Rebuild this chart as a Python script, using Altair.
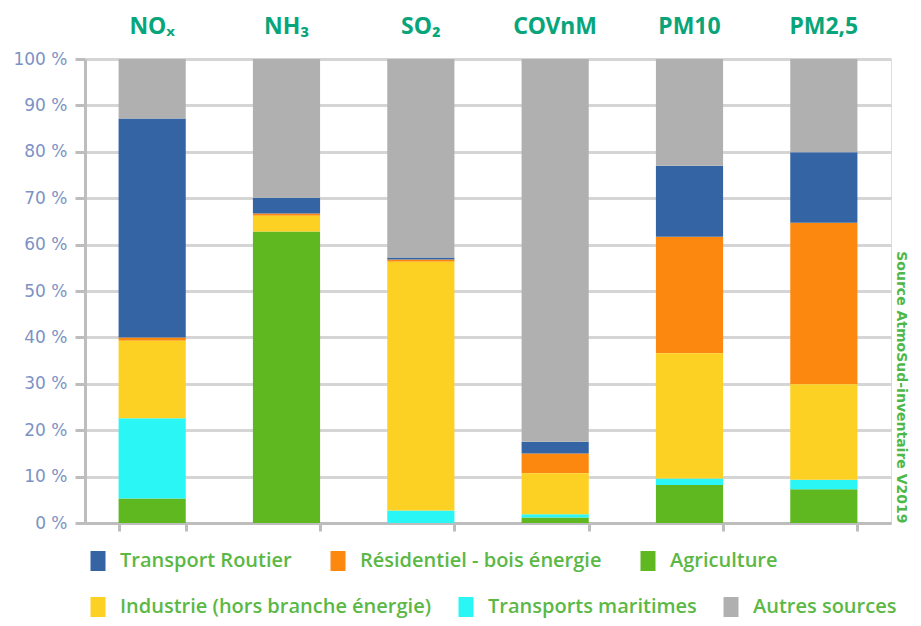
import altair as alt
import pandas as pd

categories = ["NOₓ", "NH₃", "SO₂", "COVnM", "PM10", "PM2,5"]

sources_row1 = ["Transport Routier", "Résidentiel - bois énergie", "Agriculture"]
colors_row1 = ["#3464A3", "#FD8810", "#5FB820"]
sources_row2 = ["Industrie (hors branche énergie)", "Transports maritimes", "Autres sources"]
colors_row2 = ["#FDD123", "#2BF6F6", "#B0B0B0"]

# stacking order bottom -> top
stack_order = ["Agriculture", "Transports maritimes", "Industrie (hors branche énergie)",
               "Résidentiel - bois énergie", "Transport Routier", "Autres sources"]

agriculture = [5.3, 62.8, 0.0, 1.2, 8.2, 7.3]
maritime = [17.3, 0.0, 2.7, 0.7, 1.4, 2.0]
industrie = [16.7, 3.4, 53.6, 8.8, 27.0, 20.6]
residentiel = [0.7, 0.5, 0.5, 4.3, 25.1, 34.8]
routier = [47.2, 3.4, 0.4, 2.5, 15.3, 15.2]
autres = [12.8, 29.9, 42.8, 82.5, 23.0, 20.1]

series = {
    "Agriculture": agriculture,
    "Transports maritimes": maritime,
    "Industrie (hors branche énergie)": industrie,
    "Résidentiel - bois énergie": residentiel,
    "Transport Routier": routier,
    "Autres sources": autres,
}

rows = []
for s, vals in series.items():
    for c, v in zip(categories, vals):
        rows.append({"polluant": c, "source": s, "part": v, "rang": stack_order.index(s),
                     "ligne": 1 if s in sources_row1 else 2})
df = pd.DataFrame(rows)

label_font = "Open Sans"
green_txt = "#5BB845"

xscale = alt.Scale(domain=categories, paddingInner=0.5, paddingOuter=0.25)
yscale = alt.Scale(domain=[0, 100], nice=False)

base = alt.Chart(df).transform_stack(
    stack="part", groupby=["polluant"], as_=["y0", "y1"],
    sort=[alt.SortField("rang", order="ascending")]
)


def legend(y, colpad):
    return alt.Legend(title=None, orient="none", legendX=3, legendY=y,
                      direction="horizontal",
                      symbolType="M-0.75,-1H0.75V1H-0.75Z", symbolSize=400,
                      symbolStrokeWidth=0, labelFont=label_font,
                      labelFontWeight=600, labelFontSize=20,
                      labelColor=green_txt, labelOffset=12,
                      columnPadding=colpad, labelLimit=500)


bars1 = base.transform_filter("datum.ligne == 1").mark_bar().encode(
    x=alt.X("polluant:N", scale=xscale, sort=categories,
            axis=alt.Axis(title=None, orient="top", labelAngle=0, domain=False, ticks=False,
                          labelFont="Noto Sans", labelFontWeight="bold", labelFontSize=23,
                          labelColor="#08A57A", labelPadding=21)),
    y=alt.Y("y0:Q", scale=yscale,
            axis=alt.Axis(title=None, values=list(range(0, 101, 10)),
                          labelExpr="datum.value + ' %'",
                          labelFont="DejaVu Sans", labelFontSize=17, labelColor="#7D92C4",
                          labelPadding=8, tickSize=10, tickColor="#BDBDBD", tickWidth=3,
                          domainColor="#BDBDBD", domainWidth=3,
                          grid=True, gridColor="#D5D5D5", gridWidth=3)),
    y2="y1:Q",
    color=alt.Color("source:N", scale=alt.Scale(domain=sources_row1, range=colors_row1),
                    legend=legend(492, 36)),
)

bars2 = base.transform_filter("datum.ligne == 2").mark_bar().encode(
    x=alt.X("polluant:N", scale=xscale, sort=categories, axis=None),
    y=alt.Y("y0:Q", scale=yscale, axis=None),
    y2="y1:Q",
    color=alt.Color("source:N", scale=alt.Scale(domain=sources_row2, range=colors_row2),
                    legend=legend(538, 24)),
)

frame = base.mark_bar(opacity=0).encode(
    x=alt.X("polluant:N", scale=xscale, sort=categories,
            axis=alt.Axis(title=None, orient="bottom", labels=False, tickBand="extent",
                          tickSize=8, tickColor="#BDBDBD", tickWidth=3,
                          domainColor="#BDBDBD", domainWidth=3)),
    y=alt.Y("y0:Q", scale=yscale,
            axis=alt.Axis(title="Source AtmoSud-inventaire V2019", orient="right",
                          labels=False, ticks=False, domain=False, grid=False,
                          titleAngle=90, titleAlign="right", titleBaseline="bottom",
                          titleY=464, titleX=2,
                          titleFont="DejaVu Sans", titleFontSize=14, titleFontWeight="bold",
                          titleColor="#4DB848")),
    y2="y1:Q",
)

chart = alt.layer(frame, bars1, bars2).resolve_scale(
    color="independent"
).resolve_axis(
    x="independent", y="independent"
).properties(
    width=806, height=464
).configure_view(
    stroke="#C9C9C9", strokeWidth=3
).configure(padding={"left": 4, "top": 7, "right": 2, "bottom": 2})

chart.save("out.html", embed_options={"renderer": "svg", "actions": False})
